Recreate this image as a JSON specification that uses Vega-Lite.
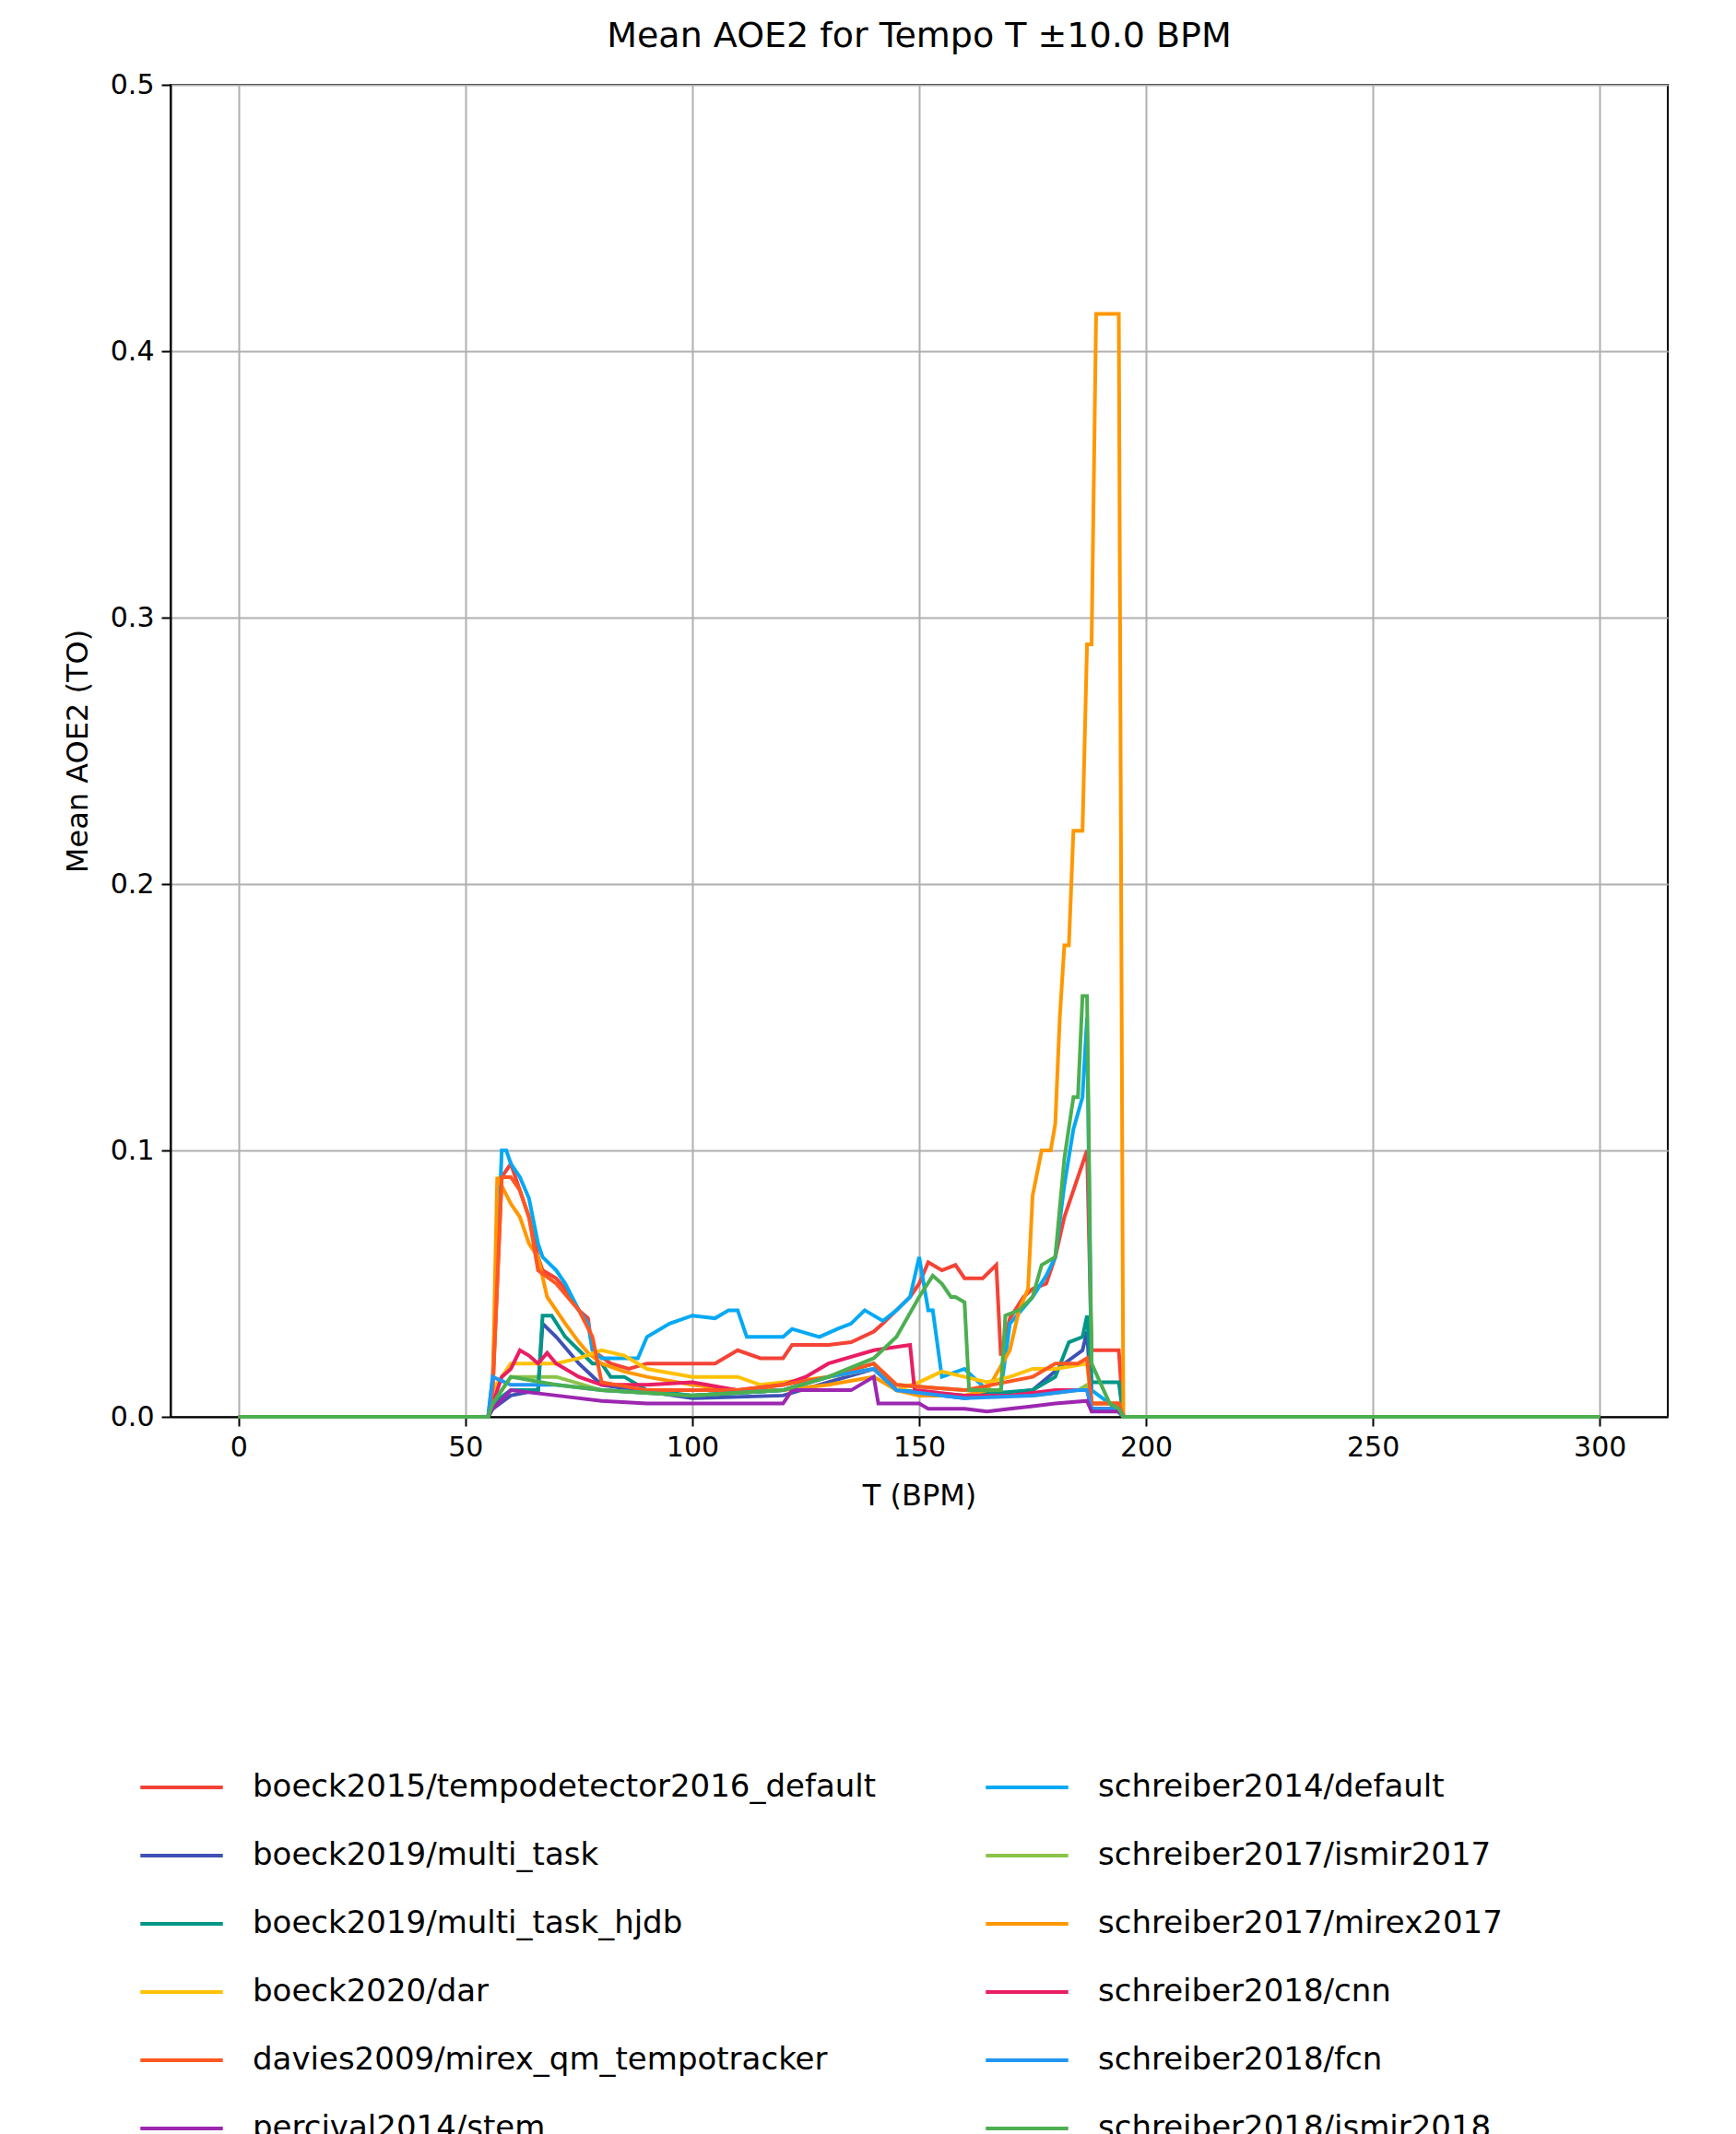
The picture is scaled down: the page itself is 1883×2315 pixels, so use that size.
{
  "$schema": "https://vega.github.io/schema/vega-lite/v6.json",
  "width": 1624,
  "height": 1445,
  "autosize": "none",
  "padding": {"left": 185, "top": 92, "right": 74, "bottom": 778},
  "background": "white",
  "title": {"text": "Mean AOE2 for Tempo T ±10.0 BPM", "fontSize": 38, "fontWeight": "normal", "font": "DejaVu Sans", "offset": 18},
  "config": {
    "font": "DejaVu Sans",
    "view": {"stroke": "black", "strokeWidth": 2},
    "axis": {"gridColor": "#b0b0b0", "gridWidth": 2, "domainColor": "black", "domainWidth": 2, "tickColor": "black", "tickWidth": 2, "tickSize": 10, "labelFontSize": 30, "titleFontSize": 32, "titleFontWeight": "normal", "labelColor": "black", "titleColor": "black", "labelPadding": 8}
  },
  "datasets": {
    "raw": [
      {"s": "boeck2015/tempodetector2016_default", "p": "56:0.01,58:0.09,60:0.095,62:0.085,64:0.075,66:0.06,67:0.055,70:0.052,72:0.048,75:0.04,77:0.037,78:0.025,82:0.02,86:0.018,90:0.02,95:0.02,100:0.02,105:0.02,110:0.025,115:0.022,120:0.022,122:0.027,130:0.027,135:0.028,140:0.032,142:0.035,145:0.04,148:0.045,150:0.05,152:0.058,155:0.055,158:0.057,160:0.052,164:0.052,167:0.057,168:0.023,170:0.037,173:0.045,175:0.048,178:0.05,180:0.06,182:0.075,185:0.09,187:0.1,188:0.025,194:0.025"},
      {"s": "schreiber2014/default", "p": "56:0.015,58:0.1,59:0.1,60:0.095,62:0.09,64:0.082,66:0.065,67:0.06,70:0.055,72:0.05,75:0.04,77:0.035,78:0.025,80:0.022,85:0.022,88:0.022,90:0.03,95:0.035,100:0.038,105:0.037,108:0.04,110:0.04,112:0.03,115:0.03,120:0.03,122:0.033,128:0.03,132:0.033,135:0.035,138:0.04,142:0.036,145:0.04,148:0.045,150:0.06,152:0.04,153:0.04,155:0.015,160:0.018,165:0.01,168:0.01,170:0.035,175:0.045,178:0.053,180:0.06,182:0.087,184:0.108,186:0.12,187:0.15,188:0.01,192:0.005"},
      {"s": "boeck2019/multi_task", "p": "56:0.003,60:0.008,66:0.01,67:0.035,70:0.03,75:0.02,80:0.012,100:0.007,120:0.008,130:0.013,140:0.018,145:0.01,160:0.007,175:0.01,182:0.02,186:0.025,187:0.032,188:0.005,194:0.005"},
      {"s": "schreiber2017/ismir2017", "p": "56:0.005,60:0.015,70:0.015,80:0.01,100:0.008,120:0.01,130:0.015,140:0.02,145:0.012,160:0.01,175:0.008,185:0.01,187:0.012,188:0.003,194:0.003"},
      {"s": "boeck2019/multi_task_hjdb", "p": "56:0.005,60:0.01,66:0.01,67:0.038,69:0.038,72:0.03,75:0.025,78:0.02,80:0.02,82:0.015,85:0.015,90:0.01,100:0.008,120:0.01,130:0.015,140:0.02,145:0.01,160:0.008,175:0.01,180:0.015,183:0.028,186:0.03,187:0.038,188:0.013,194:0.013"},
      {"s": "schreiber2017/mirex2017", "p": "56:0.01,57:0.09,60:0.08,62:0.075,64:0.065,66:0.06,68:0.045,70:0.04,72:0.035,75:0.028,77:0.024,80:0.02,85:0.017,90:0.015,100:0.012,110:0.01,120:0.01,130:0.012,140:0.015,145:0.01,150:0.008,160:0.008,165:0.01,170:0.025,172:0.04,174:0.048,175:0.083,177:0.1,179:0.1,180:0.11,181:0.15,182:0.177,183:0.177,184:0.22,186:0.22,187:0.29,188:0.29,189:0.414,194:0.414"},
      {"s": "boeck2020/dar", "p": "56:0.01,60:0.02,70:0.02,75:0.022,80:0.025,85:0.023,90:0.018,100:0.015,110:0.015,115:0.012,120:0.013,130:0.015,140:0.018,145:0.01,150:0.013,155:0.017,160:0.015,165:0.013,170:0.015,175:0.018,180:0.018,187:0.02,188:0.005,194:0.005"},
      {"s": "schreiber2018/cnn", "p": "56:0.005,58:0.015,60:0.018,62:0.025,64:0.023,66:0.02,68:0.024,70:0.02,75:0.015,80:0.012,90:0.012,100:0.013,110:0.01,120:0.012,125:0.015,130:0.02,140:0.025,148:0.027,149:0.01,160:0.008,170:0.008,180:0.01,187:0.01,188:0.003,194:0.003"},
      {"s": "davies2009/mirex_qm_tempotracker", "p": "56:0.01,58:0.09,60:0.09,62:0.085,64:0.075,66:0.055,70:0.05,75:0.04,78:0.03,80:0.013,90:0.01,100:0.01,110:0.01,120:0.012,130:0.015,140:0.02,145:0.012,160:0.01,175:0.015,180:0.02,185:0.02,187:0.022,188:0.005,194:0.005"},
      {"s": "schreiber2018/fcn", "p": "56:0.015,60:0.012,70:0.012,80:0.01,100:0.008,120:0.01,130:0.015,140:0.018,145:0.01,160:0.007,175:0.008,185:0.01,187:0.01,188:0.003,194:0.003"},
      {"s": "percival2014/stem", "p": "56:0.003,60:0.01,70:0.008,80:0.006,90:0.005,100:0.005,110:0.005,120:0.005,122:0.01,130:0.01,135:0.01,140:0.015,141:0.005,145:0.005,150:0.005,152:0.003,160:0.003,165:0.002,170:0.003,175:0.004,180:0.005,187:0.006,188:0.002,194:0.002"},
      {"s": "schreiber2018/ismir2018", "p": "56:0.005,60:0.015,70:0.012,80:0.01,100:0.008,120:0.01,130:0.015,140:0.022,145:0.03,150:0.045,153:0.053,155:0.05,157:0.045,158:0.045,160:0.043,161:0.01,165:0.01,168:0.01,169:0.038,172:0.04,175:0.045,177:0.057,180:0.06,182:0.097,184:0.12,185:0.12,186:0.158,187:0.158,188:0.02,192:0.005,194:0.003"}
    ]
  },
  "data": {"name": "raw"},
  "transform": [
    {"calculate": "'0:0,55:0,' + datum.p + ',195:0,300:0'", "as": "p2"},
    {"calculate": "split(datum.p2, ',')", "as": "pts"},
    {"flatten": ["pts"]},
    {"calculate": "toNumber(split(datum.pts, ':')[0])", "as": "x"},
    {"calculate": "toNumber(split(datum.pts, ':')[1])", "as": "y"}
  ],
  "mark": {"type": "line", "strokeWidth": 4},
  "encoding": {
    "x": {"field": "x", "type": "quantitative", "scale": {"domain": [-15, 315], "nice": false}, "axis": {"values": [0, 50, 100, 150, 200, 250, 300], "title": "T (BPM)", "titleY": 70}},
    "y": {"field": "y", "type": "quantitative", "scale": {"domain": [0, 0.5], "nice": false}, "axis": {"values": [0, 0.1, 0.2, 0.3, 0.4, 0.5], "format": ".1f", "title": "Mean AOE2 (TO)", "titlePadding": 18}},
    "order": {"field": "x", "type": "quantitative"},
    "color": {
      "field": "s", "type": "nominal",
      "scale": {
        "domain": ["boeck2015/tempodetector2016_default", "boeck2019/multi_task", "boeck2019/multi_task_hjdb", "boeck2020/dar", "davies2009/mirex_qm_tempotracker", "percival2014/stem", "schreiber2014/default", "schreiber2017/ismir2017", "schreiber2017/mirex2017", "schreiber2018/cnn", "schreiber2018/fcn", "schreiber2018/ismir2018"],
        "range": ["#f44336", "#3f51b5", "#009688", "#ffc107", "#ff5722", "#9c27b0", "#03a9f4", "#8bc34a", "#ff9800", "#e91e63", "#2196f3", "#4caf50"]
      },
      "legend": {"title": null, "orient": "none", "legendX": -35, "legendY": 1800, "columns": 2, "columnPadding": 110, "rowPadding": 10, "symbolType": "stroke", "symbolSize": 8000, "symbolStrokeWidth": 4, "labelFontSize": 34, "labelOffset": 30, "labelLimit": 1200, "labelColor": "black"}
    }
  }
}
